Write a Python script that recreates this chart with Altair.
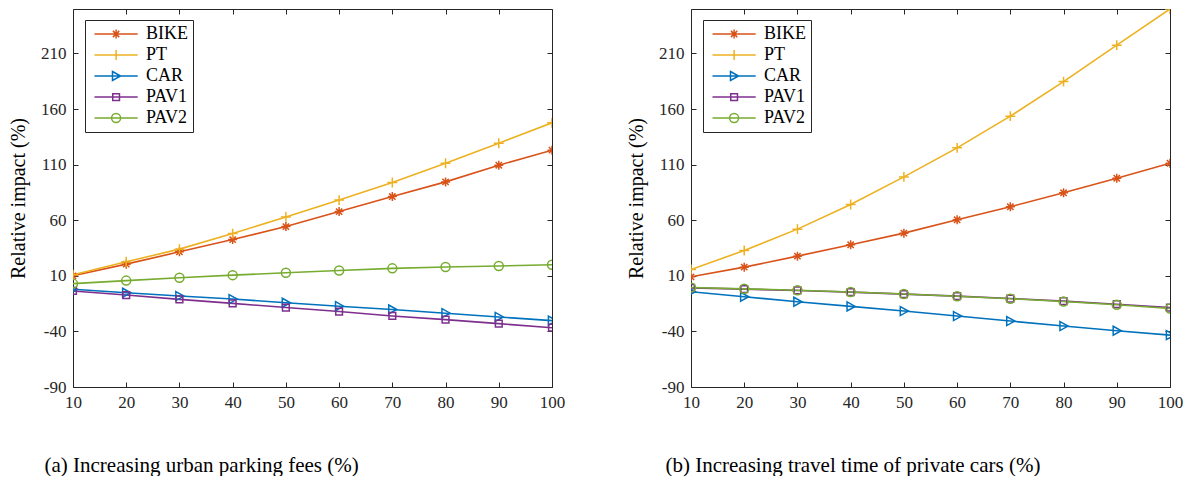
import altair as alt
import pandas as pd

# ---------------- data ----------------
x_vals = [10, 20, 30, 40, 50, 60, 70, 80, 90, 100]
modes = ["BIKE", "PT", "CAR", "PAV1", "PAV2"]
colors = ["#D95319", "#EDB120", "#0072BD", "#7E2F8E", "#77AC30"]

# (a) Increasing urban parking fees
a_bike = [10, 20.5, 31.6, 42.6, 54.3, 67.8, 81.3, 94.5, 109.5, 123]
a_pt = [11, 22.6, 34, 48, 63, 78.1, 93.9, 111.3, 129.3, 147.6]
a_car = [-2.1, -5.2, -8.2, -10.9, -14.2, -17.3, -20.3, -23.6, -27, -30.3]
a_pav1 = [-3.6, -7.3, -11.2, -14.8, -18.5, -22.1, -26.1, -29.4, -33, -36.7]
a_pav2 = [3, 5.7, 8.2, 10.6, 12.7, 14.8, 16.7, 17.9, 18.8, 20]

# (b) Increasing travel time of private cars
b_bike = [9.1, 17.8, 27.7, 37.9, 48.4, 60.4, 72.1, 84.7, 97.8, 111.3]
b_pt = [15.7, 32.8, 52, 74.1, 99, 125.1, 153.6, 184.7, 217.5, 250]
b_car = [-4.3, -8.8, -13.3, -17.5, -21.7, -26.2, -30.7, -35.2, -39.4, -43.3]
b_pav1 = [-0.8, -2, -3.2, -4.7, -6.5, -8.3, -10.4, -12.8, -15.5, -18.5]
b_pav2 = [-0.5, -1.7, -3, -4.5, -6.4, -8.4, -10.6, -13.1, -16, -19.4]

y_ticks = [-90, -40, 10, 60, 110, 160, 210]
captions = ["(a) Increasing urban parking fees (%)",
            "(b) Increasing travel time of private cars  (%)"]

FONT = "Liberation Serif"
AX = "#262626"


# ---------------- marker shapes ----------------
def marker_paths(c):
    """Marker outlines centred at x=c (unit symbol space)."""
    f = lambda v: f"{v:.3f}"
    ast = (f"M{f(c-1)},0L{f(c+1)},0M{f(c)},-1L{f(c)},1"
           f"M{f(c-0.7)},-0.7L{f(c+0.7)},0.7M{f(c-0.7)},0.7L{f(c+0.7)},-0.7")
    plus = f"M{f(c-1.1)},0L{f(c+1.1)},0M{f(c)},-1.1L{f(c)},1.1"
    tri = f"M{f(c-0.8)},-1L{f(c+1)},0L{f(c-0.8)},1Z"
    sq = f"M{f(c-0.75)},-0.75L{f(c+0.75)},-0.75L{f(c+0.75)},0.75L{f(c-0.75)},0.75Z"
    circ = f"M{f(c-1)},0A1,1,0,1,1,{f(c+1)},0A1,1,0,1,1,{f(c-1)},0Z"
    return [ast, plus, tri, sq, circ]


point_shapes = marker_paths(0)
legend_shapes = ["M-1,0L8.6,0" + p for p in marker_paths(3.8)]


def make_df(series):
    rows = []
    for i, (m, vals) in enumerate(zip(modes, series)):
        for xv, yv in zip(x_vals, vals):
            rows.append({"x": xv, "value": yv, "mode": m, "order": i,
                         "col": colors[i], "shp": point_shapes[i]})
    return pd.DataFrame(rows)


def panel(df, caption, cap_x):
    xs = alt.Scale(domain=[10, 100], nice=False, zero=False)
    ys = alt.Scale(domain=[-90, 250], nice=False, zero=False)
    x_main = alt.Axis(orient="bottom", offset=-5, values=x_vals, tickSize=5,
                      domain=False, grid=False, labelPadding=7, labelFontSize=17,
                      labelFlush=False, labelFont=FONT, labelColor=AX,
                      tickColor=AX,
                      title=caption, titleFont=FONT, titleFontSize=21,
                      titleFontWeight="normal", titleColor="black",
                      titleX=cap_x, titleY=89, titleAlign="left",
                      titleBaseline="alphabetic", titleAngle=0)
    y_main = alt.Axis(orient="left", offset=-5, values=y_ticks, tickSize=5,
                      domain=False, grid=False, labelPadding=7, labelFontSize=17,
                      labelFlush=False, labelFont=FONT, labelColor=AX,
                      tickColor=AX, labelExpr="'' + datum.value",
                      title="Relative impact (%)", titleFont=FONT,
                      titleFontSize=20, titleFontWeight="normal",
                      titleColor="black", titlePadding=12)
    x_top = alt.Axis(orient="top", offset=-5, values=x_vals, tickSize=5,
                     domain=False, grid=False, labels=False, tickColor=AX,
                     title="")
    y_right = alt.Axis(orient="right", offset=-5, values=y_ticks, tickSize=5,
                       domain=False, grid=False, labels=False, tickColor=AX,
                       title="")

    base = alt.Chart(df)
    lines = base.mark_line(strokeWidth=1.6, clip=True).encode(
        x=alt.X("x:Q", scale=xs, axis=x_main),
        y=alt.Y("value:Q", scale=ys, axis=y_main),
        detail="mode:N",
        color=alt.Color("col:N", scale=None),
        order="x:Q",
    )
    points = base.mark_point(filled=False, size=81, strokeWidth=1.5,
                             opacity=1, clip=True).encode(
        x=alt.X("x:Q", scale=xs, axis=None),
        y=alt.Y("value:Q", scale=ys, axis=None),
        color=alt.Color("col:N", scale=None),
        shape=alt.Shape("shp:N", scale=None),
        order="order:Q",
    )
    leg = alt.Legend(title=None, orient="none", legendX=12, legendY=11,
                     padding=5, strokeColor=AX, fillColor="white",
                     labelFont=FONT, labelFontSize=18, labelColor="black",
                     labelOffset=38, rowPadding=3, symbolSize=81,
                     symbolStrokeWidth=1.5, symbolOpacity=1, labelLimit=200)
    legend_layer = base.mark_point(filled=False, size=81, opacity=0,
                                   clip=True).encode(
        x=alt.X("x:Q", scale=xs, axis=x_top),
        y=alt.Y("value:Q", scale=ys, axis=y_right),
        color=alt.Color("mode:N", scale=alt.Scale(domain=modes, range=colors),
                        legend=leg),
        shape=alt.Shape("mode:N",
                        scale=alt.Scale(domain=modes, range=legend_shapes),
                        legend=leg),
    )
    return alt.layer(lines, points, legend_layer).resolve_axis(
        x="independent", y="independent"
    ).properties(width=479, height=378)


left = panel(make_df([a_bike, a_pt, a_car, a_pav1, a_pav2]), captions[0], -29)
right = panel(make_df([b_bike, b_pt, b_car, b_pav1, b_pav2]), captions[1], -26)

chart = alt.hconcat(left, right, spacing=60).resolve_legend(
    color="independent", shape="independent"
).resolve_scale(color="independent", shape="independent").configure(
    padding={"left": 0, "top": 0, "right": 0, "bottom": 0}
).configure_view(stroke=AX, strokeWidth=1).configure_axis(
    labelFont=FONT, titleFont=FONT
)

chart.save("out.html", embed_options={"renderer": "svg", "actions": False})
